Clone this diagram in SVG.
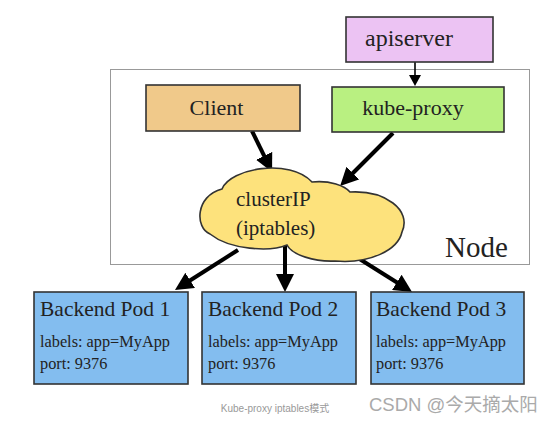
<svg xmlns="http://www.w3.org/2000/svg" width="553" height="424" viewBox="0 0 553 424">
<defs>
<style>
.box{stroke:#333;stroke-width:1.6}
.t{font-family:"Liberation Serif","Times New Roman",serif;fill:#222}
.conn{stroke:#000;stroke-width:4;fill:none}
.thin{stroke:#000;stroke-width:1.6;fill:none}
</style>
<marker id="ah" markerUnits="userSpaceOnUse" viewBox="0 0 18 18" markerWidth="18" markerHeight="18" refX="4" refY="9" orient="auto">
<path d="M0,0 L18,9 L0,18 z" fill="#000"/>
</marker>
<marker id="ahs" markerUnits="userSpaceOnUse" viewBox="0 0 11 12" markerWidth="11" markerHeight="12" refX="1" refY="6" orient="auto">
<path d="M0,0 L11,6 L0,12 z" fill="#000"/>
</marker>
</defs>
<rect width="553" height="424" fill="#fff"/>
<g id="node-frame">
<rect x="110.5" y="69.5" width="419" height="195" fill="none" stroke="#999" stroke-width="1"/>
<text class="t" x="445" y="257" font-size="29">Node</text>
</g>
<g id="connectors">
<line class="thin" x1="415" y1="62" x2="415" y2="76" marker-end="url(#ahs)"/>
<line class="conn" x1="252" y1="131" x2="265.9" y2="159.4" marker-end="url(#ah)"/>
<line class="conn" x1="393" y1="133" x2="350" y2="176" marker-end="url(#ah)" stroke-width="3"/>
<line class="conn" x1="238" y1="250" x2="186.8" y2="282.5" marker-end="url(#ah)"/>
<line class="conn" x1="285" y1="240" x2="285" y2="278" marker-end="url(#ah)"/>
<line class="conn" x1="358" y1="258" x2="400.2" y2="284.5" marker-end="url(#ah)"/>
</g>
<g id="apiserver">
<rect class="box" x="346" y="17" width="147" height="45" fill="#ecc3f3"/>
<text class="t" x="409" y="46" font-size="24" text-anchor="middle">apiserver</text>
</g>
<g id="client">
<rect class="box" x="146" y="85" width="154" height="46" fill="#f0c98a"/>
<text class="t" x="216.5" y="115" font-size="22" text-anchor="middle">Client</text>
</g>
<g id="kube-proxy">
<rect class="box" x="332" y="87" width="172" height="45" fill="#b9f081"/>
<text class="t" x="413" y="115" font-size="22" text-anchor="middle">kube-proxy</text>
</g>
<g id="clusterip">
<path d="M210,234 C195,228 195,196 222,189 C230,168 290,158 312,182 C330,180 345,186 350,192 C385,190 412,210 402,232 C398,250 370,264 335,261 C315,262 292,255 287,245 C270,252 230,250 210,234 Z" fill="#fde27c" stroke="#333" stroke-width="1.6"/>
<text class="t" x="236" y="206" font-size="21">clusterIP</text>
<text class="t" x="236" y="235" font-size="21">(iptables)</text>
</g>
<g id="pod1">
<rect class="box" x="34" y="292" width="154" height="92" fill="#83bdef"/>
<text class="t" x="40" y="316" font-size="21.5">Backend Pod 1</text>
<text class="t" x="40" y="347" font-size="16.3">labels: app=MyApp</text>
<text class="t" x="40" y="369" font-size="16.3">port: 9376</text>
</g>
<g id="pod2">
<rect class="box" x="202" y="292" width="154" height="92" fill="#83bdef"/>
<text class="t" x="208" y="316" font-size="21.5">Backend Pod 2</text>
<text class="t" x="208" y="347" font-size="16.3">labels: app=MyApp</text>
<text class="t" x="208" y="369" font-size="16.3">port: 9376</text>
</g>
<g id="pod3">
<rect class="box" x="371" y="292" width="153" height="92" fill="#83bdef"/>
<text class="t" x="376" y="316" font-size="21.5">Backend Pod 3</text>
<text class="t" x="376" y="347" font-size="16.3">labels: app=MyApp</text>
<text class="t" x="376" y="369" font-size="16.3">port: 9376</text>
</g>
<text x="275" y="412" font-size="10" text-anchor="middle" fill="#999" font-family="'Liberation Sans','Noto Sans CJK SC',sans-serif">Kube-proxy iptables模式</text>
<text x="369" y="411" font-size="18.5" fill="#aaa" font-family="'Liberation Sans','Noto Sans CJK SC',sans-serif">CSDN @今天摘太阳</text>
</svg>
